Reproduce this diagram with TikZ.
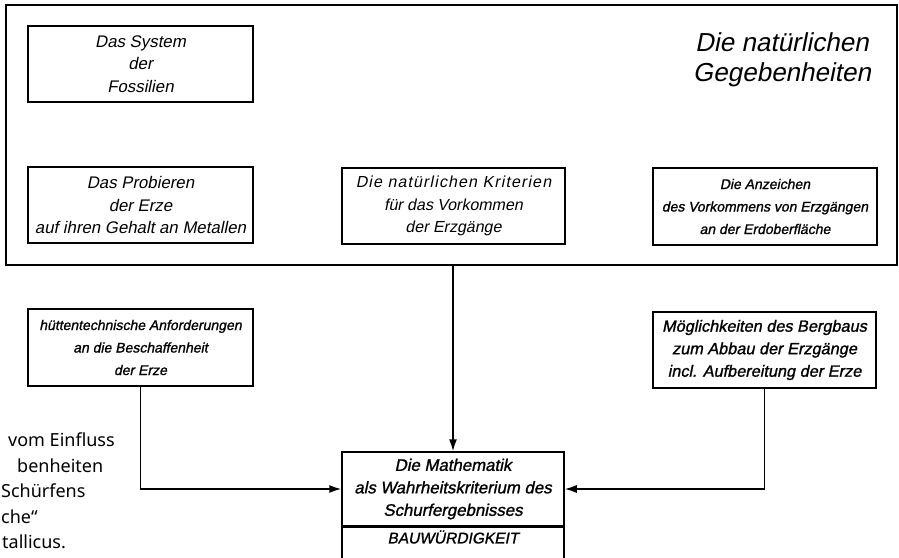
\documentclass[tikz,border=0pt]{standalone}
\usepackage{fontspec}
\newfontfamily\din[FakeSlant=0.2]{Liberation Sans}
\newfontfamily\dinb[FakeSlant=0.2,FakeBold=1.2]{Liberation Sans}
\newfontfamily\side{Noto Sans}
\usetikzlibrary{arrows.meta}
\begin{document}
\begin{tikzpicture}[x=1pt,y=-1pt,
  box/.style={draw, line width=1.5pt, align=center, inner sep=0pt,
    font=\din\fontsize{#1}{22.5}\selectfont},
  box/.default=16,
  boxb/.style={draw, line width=1.5pt, align=center, inner sep=0pt,
    font=\dinb\fontsize{#1}{22.5}\selectfont},
  boxb/.default=16,
  conn/.style={line width=1.5pt, -{Latex[length=12pt,width=8pt]}},
  sidetext/.style={anchor=base west, inner sep=0pt, font=\side\fontsize{18}{20}\selectfont}
]
\useasboundingbox (0,0) rectangle (899,557);
\begin{scope}
\clip (0,0) rectangle (899,557);
% outer frame
\node[draw, line width=1.8pt, minimum width=891pt, minimum height=260pt, inner sep=0pt] (outer) at (451.5,135) {};
\node[anchor=north east, align=center, inner sep=0pt,
  font=\din\fontsize{26}{30}\selectfont] (title) at (871,32) {Die natürlichen\\Gegebenheiten};
% inner boxes
\node[box=16.8, minimum width=225pt, minimum height=76pt] (b1) at (140.5,64) {Das System\\der\\Fossilien};
\node[box=16.8, minimum width=225pt, minimum height=76pt] (b2) at (140.5,205) {Das Probieren\\der Erze\\auf ihren Gehalt an Metallen};
\node[box=16, minimum width=223pt, minimum height=76pt] (b3) at (453.5,206) {{\addfontfeature{LetterSpace=7}Die natürlichen Kriterien}\\für das Vorkommen\\der Erzgänge};
\node[boxb=14, minimum width=224pt, minimum height=77pt] (b4) at (765,206.5) {Die Anzeichen\\des Vorkommens von Erzgängen\\an der Erdoberfläche};
% lower boxes
\node[boxb=14, minimum width=225pt, minimum height=77pt] (b5) at (140.5,347.5) {hüttentechnische Anforderungen\\an die Beschaffenheit\\der Erze};
\node[boxb=16.3, minimum width=223pt, minimum height=76pt] (b6) at (764.5,350) {Möglichkeiten des Bergbaus\\zum Abbau der Erzgänge\\incl. Aufbereitung der Erze};
% mathematics box
\node[boxb=16.8, minimum width=222pt, minimum height=74pt] (m) at (453,489) {Die Mathematik\\als Wahrheitskriterium des\\Schurfergebnisses};
\node[draw, line width=1.5pt, minimum width=222pt, minimum height=40pt, anchor=north, inner sep=0pt] (bw) at (m.south) {};
\node[inner sep=0pt, font=\dinb\fontsize{15.5}{18}\selectfont] (bwlabel) at (453,537) {BAUWÜRDIGKEIT};
% connectors
\draw[conn] (outer.south -| m.north) -- (m.north);
\draw[conn] (b5.south) |- (m.west);
\draw[conn] (b6.south) |- (m.east);
% cut-off side text
\node[sidetext] (s1) at (8,446) {vom Einfluss};
\node[sidetext] (s2) at (17,472) {benheiten};
\node[sidetext] (s3) at (1,497.5) {Schürfens};
\node[sidetext] (s4) at (1,523) {che“};
\node[sidetext] (s5) at (2,548) {tallicus.};
\end{scope}
\end{tikzpicture}
\end{document}
